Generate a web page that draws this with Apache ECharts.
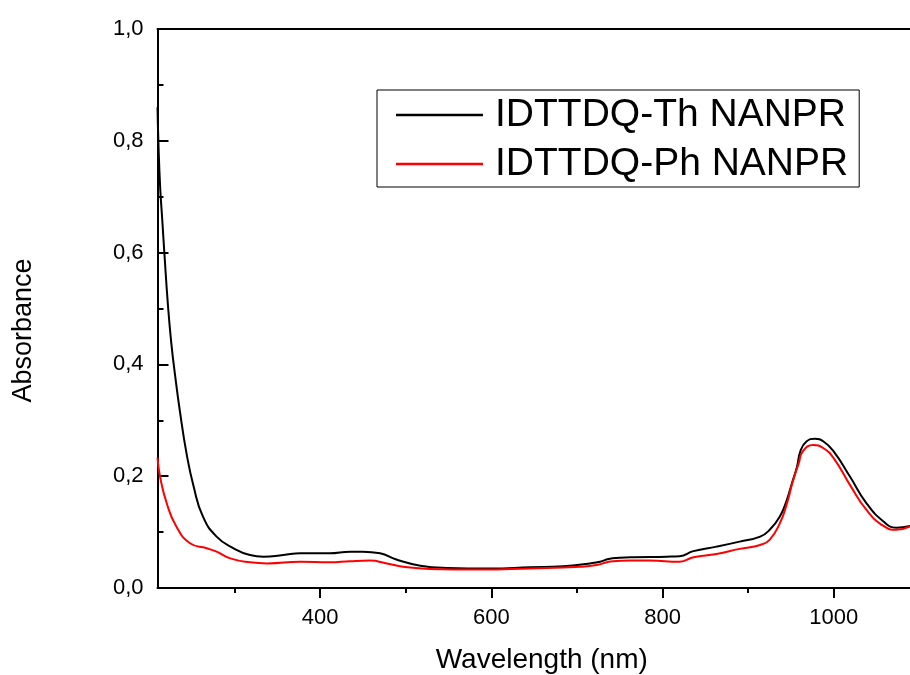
<!DOCTYPE html>
<html>
<head>
<meta charset="utf-8">
<script src="https://cdn.jsdelivr.net/npm/echarts@6/dist/echarts.min.js"></script>
<style>html,body{margin:0;padding:0;background:#fff}#c{width:910px;height:675px}</style>
</head>
<body>
<div id="c"></div>
<script>
var seriesNames = ['IDTTDQ-Th NANPR', 'IDTTDQ-Ph NANPR'];
var thWavelength = [210, 211, 213, 215.5, 218, 222, 226, 231, 236, 244, 252, 263, 279, 299, 318, 334, 357, 377, 411, 435, 450, 470, 489, 517, 548, 598, 645, 684, 715, 727, 737, 750, 766, 805, 820, 836, 863, 890, 914, 925, 937, 945, 951, 957, 961, 968, 978, 988, 1000, 1019, 1038, 1058, 1073, 1089];
var thAbsorbance = [0.86, 0.80, 0.72, 0.66, 0.60, 0.51, 0.44, 0.375, 0.318, 0.24, 0.183, 0.128, 0.092, 0.071, 0.059, 0.056, 0.059, 0.062, 0.062, 0.065, 0.065, 0.062, 0.051, 0.040, 0.036, 0.035, 0.037, 0.039, 0.044, 0.047, 0.052, 0.054, 0.055, 0.056, 0.057, 0.066, 0.074, 0.083, 0.092, 0.104, 0.128, 0.157, 0.187, 0.217, 0.245, 0.262, 0.267, 0.262, 0.244, 0.199, 0.152, 0.119, 0.108, 0.111];
var phWavelength = [210, 213, 220.7, 232, 248, 267.5, 279, 295, 318, 338, 377, 411, 435, 458, 478, 497, 528, 587, 645, 704, 723, 735, 742, 762, 785, 820, 836, 863, 890, 914, 925, 937, 945, 952, 959, 964, 976, 988, 1000, 1019, 1038, 1058, 1073, 1089];
var phAbsorbance = [0.233, 0.199, 0.152, 0.110, 0.080, 0.071, 0.065, 0.053, 0.046, 0.044, 0.047, 0.046, 0.048, 0.049, 0.044, 0.038, 0.034, 0.033, 0.035, 0.038, 0.041, 0.046, 0.048, 0.049, 0.049, 0.047, 0.055, 0.061, 0.070, 0.077, 0.086, 0.116, 0.150, 0.190, 0.223, 0.245, 0.256, 0.250, 0.232, 0.184, 0.140, 0.111, 0.104, 0.110];
var xMajorTicks = [400, 600, 800, 1000];
var xMinorTicks = [300, 500, 700, 900];
var xMin = 210, xMax = 1089;

function pairs(xs, ys) { return xs.map(function (x, i) { return [x, ys[i]]; }); }

var FONT = "'Liberation Sans', Arial, sans-serif";
var chart = echarts.init(document.getElementById('c'), null, {renderer: 'canvas'});
var axisLineStyle = {color: '#000', width: 2};
chart.setOption({
  animation: false,
  backgroundColor: '#fff',
  textStyle: {fontFamily: FONT},
  grid: {left: 157.5, top: 29, right: 0, bottom: 87, containLabel: false, outerBoundsMode: 'none'},
  legend: {
    left: 377, top: 90, orient: 'vertical',
    data: seriesNames,
    icon: 'rect', itemWidth: 87, itemHeight: 2.5, itemGap: 9,
    borderColor: '#000', borderWidth: 1,
    padding: [5, 11, 3, 19],
    textStyle: {fontFamily: FONT, fontSize: 39, color: '#000', lineHeight: 40, padding: [0, 0, 0, 7]}
  },
  xAxis: [
    {
      type: 'value', min: xMin, max: xMax, position: 'bottom',
      name: 'Wavelength (nm)', nameLocation: 'middle', nameGap: 58,
      nameTextStyle: {fontFamily: FONT, fontSize: 28, color: '#000', padding: [0, 0, 0, 16]},
      axisLine: {show: true, onZero: false, lineStyle: axisLineStyle},
      axisTick: {show: true, length: 10, lineStyle: {color: '#000', width: 2}, customValues: xMajorTicks},
      axisLabel: {fontFamily: FONT, fontSize: 22, color: '#000', margin: 19, customValues: xMajorTicks,
        formatter: function (v) { return String(v); }},
      splitLine: {show: false}
    },
    {
      type: 'value', min: xMin, max: xMax, position: 'bottom',
      axisLine: {show: false, onZero: false},
      axisTick: {show: true, length: 5, lineStyle: {color: '#000', width: 2}, customValues: xMinorTicks},
      axisLabel: {show: false},
      splitLine: {show: false}
    },
    {
      type: 'value', min: xMin, max: xMax, position: 'top',
      axisLine: {show: true, onZero: false, lineStyle: axisLineStyle},
      axisTick: {show: false}, axisLabel: {show: false}, splitLine: {show: false}
    }
  ],
  yAxis: {
    type: 'value', min: 0, max: 1, interval: 0.2,
    name: 'Absorbance', nameLocation: 'middle', nameGap: 120,
    nameTextStyle: {fontFamily: FONT, fontSize: 27, color: '#000', padding: [0, 44, 0, 0]},
    axisLine: {show: true, onZero: false, lineStyle: axisLineStyle},
    axisTick: {show: true, inside: true, length: 11, lineStyle: {color: '#000', width: 2}},
    minorTick: {show: true, splitNumber: 2, length: 6, lineStyle: {color: '#000', width: 2}},
    axisLabel: {fontFamily: FONT, fontSize: 22, color: '#000', margin: 14,
      formatter: function (v) { return v.toFixed(1).replace('.', ','); }},
    splitLine: {show: false}
  },
  series: [
    {name: seriesNames[0], type: 'line', xAxisIndex: 0, data: pairs(thWavelength, thAbsorbance),
      smooth: 0.5, showSymbol: false, symbol: 'none', lineStyle: {color: '#000', width: 2}, itemStyle: {color: '#000'}},
    {name: seriesNames[1], type: 'line', xAxisIndex: 0, data: pairs(phWavelength, phAbsorbance),
      smooth: 0.5, showSymbol: false, symbol: 'none', lineStyle: {color: '#ff0000', width: 2}, itemStyle: {color: '#ff0000'}}
  ]
});
</script>
</body>
</html>
